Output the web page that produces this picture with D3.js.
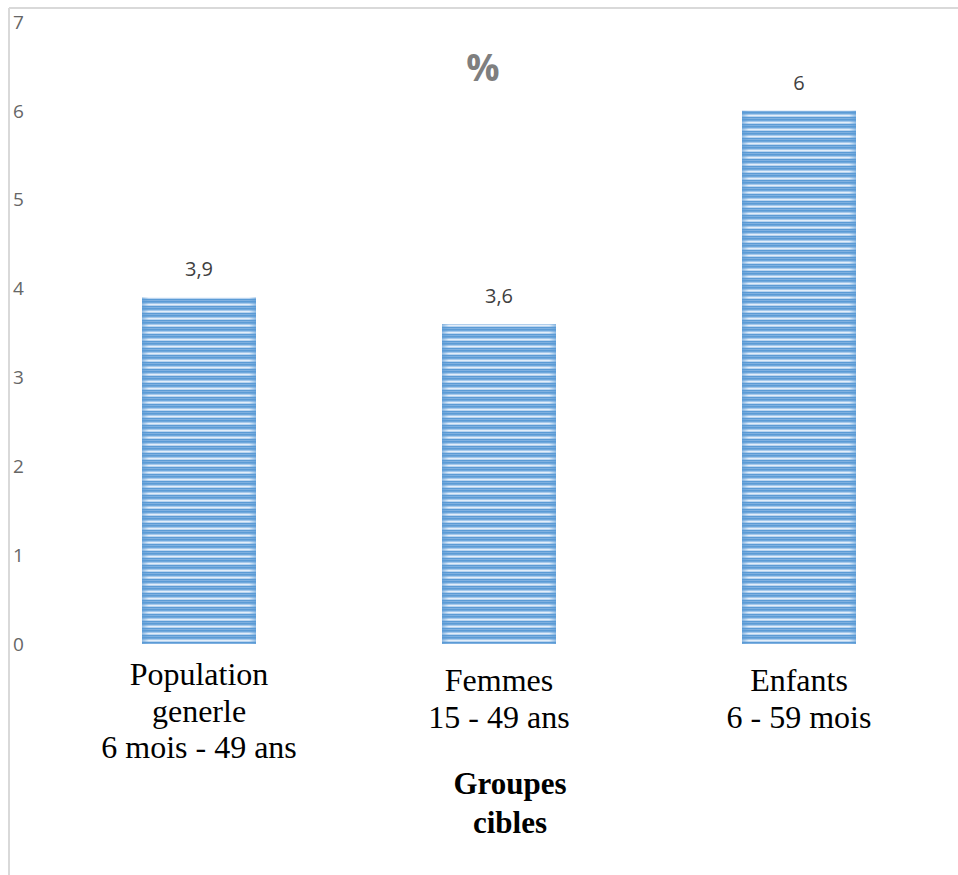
<!DOCTYPE html>
<html>
<head>
<meta charset="utf-8">
<script src="https://cdn.jsdelivr.net/npm/d3@7"></script>
<style>
  body { margin: 0; background: #fff; }
</style>
</head>
<body>
<div class="graphic"></div>
<script>
// data
const groups = ["Population generle|6 mois - 49 ans", "Femmes|15 - 49 ans", "Enfants|6 - 59 mois"];
const groupLines = [["Population", "generle", "6 mois - 49 ans"], ["Femmes", "15 - 49 ans"], ["Enfants", "6 - 59 mois"]];
const values = [3.9, 3.6, 6];
const valueLabels = ["3,9", "3,6", "6"];
const yTicks = [0, 1, 2, 3, 4, 5, 6, 7];

const W = 958, H = 875;

const svg = d3.select(".graphic")
  .append("svg")
  .attr("width", W)
  .attr("height", H)

// striped fill for bars
const defs = svg.append("defs")
const pat = defs.append("pattern")
  .attr("id", "stripes")
  .attr("patternUnits", "userSpaceOnUse")
  .attr("width", 8)
  .attr("height", 7)
const stripeCols = ["#5b9bd5", "#6fa8dc", "#a7c9eb", "#e3eef9", "#b9d4f0", "#5b9bd5", "#7fb0e0"]
stripeCols.forEach((c, i) => {
  pat.append("rect").attr("x", 0).attr("y", i).attr("width", 8).attr("height", 1).attr("fill", c)
})

const edge = defs.append("linearGradient").attr("id", "edge")
edge.append("stop").attr("offset", "0%").attr("stop-color", "#5b9bd5").attr("stop-opacity", 0.6)
edge.append("stop").attr("offset", "6%").attr("stop-color", "#5b9bd5").attr("stop-opacity", 0)
edge.append("stop").attr("offset", "94%").attr("stop-color", "#5b9bd5").attr("stop-opacity", 0)
edge.append("stop").attr("offset", "100%").attr("stop-color", "#5b9bd5").attr("stop-opacity", 0.6)

// chart frame (only top and left visible)
svg.append("line")
  .attr("x1", 9).attr("y1", 8).attr("x2", W).attr("y2", 8)
  .attr("stroke", "#d9d9d9").attr("stroke-width", 2)
svg.append("line")
  .attr("x1", 9).attr("y1", 8).attr("x2", 9).attr("y2", H)
  .attr("stroke", "#d9d9d9").attr("stroke-width", 2)

const xScale = d3.scaleBand()
  .domain(groups)
  .range([49, 949])
  .paddingInner(0.62)
  .paddingOuter(0.31)

const yScale = d3.scaleLinear()
  .domain([0, 7])
  .range([644, 22])

// y tick labels
svg.append("g")
  .selectAll("text")
  .data(yTicks)
  .join("text")
    .attr("x", 13)
    .attr("y", d => yScale(d))
    .attr("dy", "0.35em")
    .attr("font-family", "Open Sans, Liberation Sans, sans-serif")
    .attr("font-size", 19)
    .attr("fill", "#666")
    .text(d => d)

// title
svg.append("text")
  .attr("x", 483)
  .attr("y", 81)
  .attr("text-anchor", "middle")
  .attr("font-family", "Open Sans, Liberation Sans, sans-serif")
  .attr("font-weight", "bold")
  .attr("font-size", 37)
  .attr("fill", "#7f7f7f")
  .text("%")

const bars = svg.selectAll("g.bar")
  .data(groups)
  .join("g")
    .attr("class", "bar")
    .attr("transform", d => `translate(${xScale(d)},0)`)

bars.append("rect")
  .attr("y", (d, i) => yScale(values[i]))
  .attr("width", xScale.bandwidth())
  .attr("height", (d, i) => yScale(0) - yScale(values[i]))
  .attr("fill", "url(#stripes)")

bars.append("rect")
  .attr("y", (d, i) => yScale(values[i]))
  .attr("width", xScale.bandwidth())
  .attr("height", (d, i) => yScale(0) - yScale(values[i]))
  .attr("fill", "url(#edge)")

bars.append("text")
  .attr("x", xScale.bandwidth() / 2)
  .attr("y", (d, i) => yScale(values[i]) - 21)
  .attr("text-anchor", "middle")
  .attr("font-family", "Open Sans, Liberation Sans, sans-serif")
  .attr("font-size", 20)
  .attr("fill", "#404040")
  .text((d, i) => valueLabels[i])

// category labels
bars.append("text")
  .attr("text-anchor", "middle")
  .attr("font-family", "Liberation Serif, Times New Roman, serif")
  .attr("font-size", 32)
  .attr("fill", "#000")
  .selectAll("tspan")
  .data((d, i) => groupLines[i].map(t => ({ t, n: groupLines[i].length })))
  .join("tspan")
    .attr("x", xScale.bandwidth() / 2)
    .attr("y", (d, j) => (d.n === 3 ? 685 : 691) + j * 36.5)
    .text(d => d.t)

// axis title
svg.append("text")
  .attr("text-anchor", "middle")
  .attr("font-family", "Liberation Serif, Times New Roman, serif")
  .attr("font-weight", "bold")
  .attr("font-size", 31)
  .attr("fill", "#000")
  .selectAll("tspan")
  .data(["Groupes", "cibles"])
  .join("tspan")
    .attr("x", 510)
    .attr("y", (d, i) => 794 + i * 39)
    .text(d => d)
</script>
</body>
</html>
